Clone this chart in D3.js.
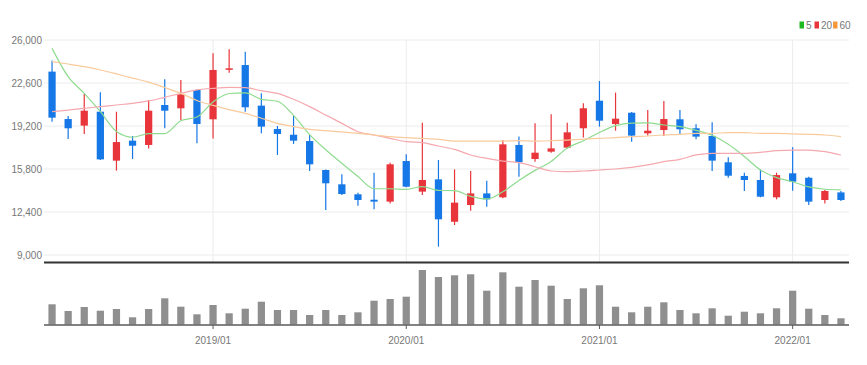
<!DOCTYPE html>
<html>
  <head>
    <meta charset="utf-8">
    <title>candle</title>
    <script type="text/javascript" src="https://d3js.org/d3.v7.min.js"></script>
    <style>
      body { margin:0; background:#fff; }
      text { font-family:"Liberation Sans Narrow","Arial Narrow","Liberation Sans",sans-serif; font-size:10px; fill:#777; }
    </style>
  </head>
  <body>
    <svg width="867" height="365"></svg>
    <script>
      // monthly data
      var months = ["2018/03","2018/04","2018/05","2018/06","2018/07","2018/08","2018/09","2018/10","2018/11","2018/12",
        "2019/01","2019/02","2019/03","2019/04","2019/05","2019/06","2019/07","2019/08","2019/09","2019/10","2019/11","2019/12",
        "2020/01","2020/02","2020/03","2020/04","2020/05","2020/06","2020/07","2020/08","2020/09","2020/10","2020/11","2020/12",
        "2021/01","2021/02","2021/03","2021/04","2021/05","2021/06","2021/07","2021/08","2021/09","2021/10","2021/11","2021/12",
        "2022/01","2022/02","2022/03","2022/04"];
      var opens = [23500,19750,19230,20330,16460,18040,17700,20860,20600,22050,19730,23680,24020,20810,18960,18510,18010,15720,14590,13800,
        13370,13220,16430,14010,14980,11630,12950,13870,13560,17700,16590,17170,17490,19020,21200,19360,20250,18620,18880,19730,
        19020,18410,16330,15250,14930,13560,15460,15110,13350,13950];
      var highs = [24370,19990,21730,21860,20330,18410,21260,22890,22840,22100,24950,25260,25080,21780,19200,19990,18490,15770,15380,13930,
        15510,16300,16960,19460,16510,15770,15640,14880,18090,18360,19410,20120,19460,20990,22760,21840,20310,20460,21180,20460,
        19330,19490,16720,15510,15770,15510,17510,15190,14140,14060];
      var lows = [19540,18170,18570,16510,15670,16590,17430,19020,19670,17830,18220,23420,20330,18620,16910,17780,15640,12560,13740,12900,
        12610,13080,14350,13740,9660,11370,12500,12820,13480,15190,16380,17090,17430,18300,19150,18830,17960,18440,18410,18490,
        18150,15640,15110,14060,13560,13400,14090,12950,13080,13270];
      var closes = [19860,19020,20410,16560,17930,17640,20410,20410,21700,19360,23630,23760,20680,19150,18570,18040,16170,14670,13820,13350,
        13220,16170,14400,14930,11820,13140,13870,13400,17750,16330,17090,17430,18700,20600,19620,19780,18440,18830,19750,18940,
        18360,16460,15270,14930,13610,15320,14800,13220,14060,13350];
      var volumes = [404,270,350,276,310,144,310,524,356,204,390,224,316,456,290,290,190,290,190,244,
        476,510,556,1090,950,984,1004,676,1044,756,890,776,510,724,784,356,244,356,444,290,
        224,324,176,256,224,324,676,316,190,124];
      var ma5 = [25340,23100,21780,20330,18760,18310,18590,18590,19620,19910,21100,21770,21820,21310,21160,20040,18520,17320,16250,15210,
        14240,14240,14190,14410,14110,14090,13630,13430,14000,14900,15690,16400,17460,18030,18690,19230,19430,19450,19280,19150,
        18860,18470,17750,16790,15730,15120,14790,14380,14200,14150];
      var ma20 = [20330,20460,20600,20730,20860,20990,21180,21470,21780,22050,22180,22260,22230,21990,21780,21310,20730,20070,19410,18750,
        18490,18220,17960,17880,17620,17350,16910,16640,16430,16300,15980,15640,15590,15640,15720,15800,15930,16120,16380,16560,
        16910,17040,17040,17040,17120,17250,17300,17300,17170,16910];
      var ma60 = [24290,24100,23890,23630,23320,22990,22670,22240,21780,21220,20830,20500,20200,19810,19410,19150,18940,18830,18730,18620,
        18490,18360,18280,18220,18150,18010,18010,18010,18010,18040,18010,18040,18090,18170,18220,18280,18360,18410,18490,18540,
        18620,18620,18670,18670,18620,18620,18570,18540,18490,18360];
      var priceTicks = [9000,12400,15800,19200,22600,26000];
      var yearTicks = ["2019/01","2020/01","2021/01","2022/01"];
      var maNames = ["5","20","60"];

      var svg = d3.select("svg");
      var left = 44, right = 849;
      var upColor = "#e8353b", downColor = "#1677e6";
      var maColors = ["#8fdb8f","#f5a8ae","#f9cb9c"];
      var legendColors = ["#1fb91f","#e8353b","#f5973a"];

      var x = d3.scaleBand().domain(months).range([left,right]).paddingInner(0.55).paddingOuter(0.275);
      var cx = function(m){ return x(m) + x.bandwidth()/2; };
      var y = d3.scaleLinear().domain([9000,26000]).range([255,40]);
      var yv = d3.scaleLinear().domain([0,1200]).range([324.5,264.5]);

      // grid
      svg.append("g").selectAll("line").data(priceTicks).enter().append("line")
        .attr("x1",left).attr("x2",right)
        .attr("y1",function(d){ return y(d); }).attr("y2",function(d){ return y(d); })
        .attr("stroke","#ececec").attr("stroke-width",1);
      svg.append("g").selectAll("line").data(yearTicks).enter().append("line")
        .attr("x1",cx).attr("x2",cx).attr("y1",40).attr("y2",262)
        .attr("stroke","#ececec").attr("stroke-width",1);

      // y labels
      svg.append("g").selectAll("text").data(priceTicks).enter().append("text")
        .attr("x",42).attr("y",function(d){ return y(d) + 3.5; })
        .attr("text-anchor","end")
        .text(function(d){ return d3.format(",")(d); });

      // candles
      var idx = d3.range(months.length);
      var cg = svg.append("g").selectAll("g").data(idx).enter().append("g");
      cg.append("line")
        .attr("x1",function(i){ return cx(months[i]); }).attr("x2",function(i){ return cx(months[i]); })
        .attr("y1",function(i){ return y(highs[i]); }).attr("y2",function(i){ return y(lows[i]); })
        .attr("stroke",function(i){ return closes[i] >= opens[i] ? upColor : downColor; })
        .attr("stroke-width",1.2);
      cg.append("rect")
        .attr("x",function(i){ return x(months[i]); })
        .attr("width",x.bandwidth())
        .attr("y",function(i){ return y(Math.max(opens[i],closes[i])); })
        .attr("height",function(i){ return Math.max(1.5, Math.abs(y(opens[i]) - y(closes[i]))); })
        .attr("fill",function(i){ return closes[i] >= opens[i] ? upColor : downColor; });

      // moving averages
      var line = d3.line().curve(d3.curveMonotoneX);
      [ma5,ma20,ma60].forEach(function(s,k){
        svg.append("path")
          .attr("d",line(s.map(function(v,i){ return [cx(months[i]), y(v)]; })))
          .attr("fill","none").attr("stroke",maColors[k]).attr("stroke-width",1.2);
      });

      // separator
      svg.append("line").attr("x1",left).attr("x2",right).attr("y1",262.5).attr("y2",262.5)
        .attr("stroke","#333").attr("stroke-width",2);

      // volume
      svg.append("g").selectAll("rect").data(idx).enter().append("rect")
        .attr("x",function(i){ return x(months[i]); })
        .attr("width",x.bandwidth())
        .attr("y",function(i){ return yv(volumes[i]); })
        .attr("height",function(i){ return yv(0) - yv(volumes[i]); })
        .attr("fill","#8f8f8f");
      svg.append("line").attr("x1",left).attr("x2",right).attr("y1",325).attr("y2",325)
        .attr("stroke","#5a5a5a").attr("stroke-width",1.6);

      // x ticks
      var xt = svg.append("g").selectAll("g").data(yearTicks).enter().append("g");
      xt.append("line").attr("x1",cx).attr("x2",cx).attr("y1",325).attr("y2",329)
        .attr("stroke","#5a5a5a");
      xt.append("text").attr("x",cx).attr("y",344).attr("text-anchor","middle")
        .text(function(d){ return d; });

      // legend
      var lx = [799.5,814.5,833];
      var lg = svg.append("g").selectAll("g").data(maNames).enter().append("g");
      lg.append("rect").attr("x",function(d,i){ return lx[i]; }).attr("y",21.5)
        .attr("width",4.5).attr("height",7)
        .attr("fill",function(d,i){ return legendColors[i]; });
      lg.append("text").attr("x",function(d,i){ return lx[i] + 6.5; }).attr("y",28.5)
        .text(function(d){ return d; });
    </script>
  </body>
</html>
